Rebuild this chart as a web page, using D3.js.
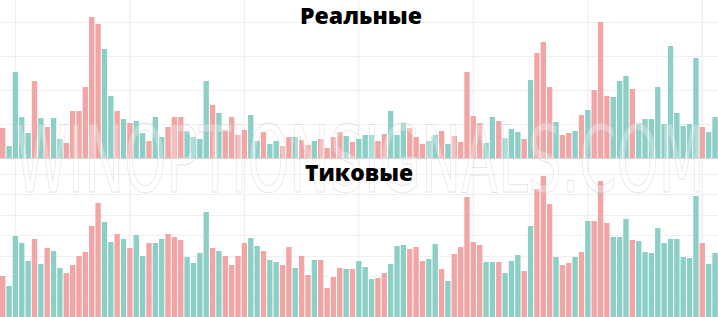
<!DOCTYPE html>
<html>
<head>
<meta charset="utf-8">
<script src="https://cdn.jsdelivr.net/npm/d3@7"></script>
<style>
  body { margin: 0; background: #fff; }
  #chartgoeshere { width: 718px; height: 317px; }
</style>
</head>
<body>
<div id="chartgoeshere"></div>
<script>
// Candle direction for every bar: "u" = up (teal), "d" = down (pink)
var directions = ("d u u u u d u d u u d d d d d d u u d u d u u d u u d d d u u u u d u d d d " +
  "d u u d u u d d u d d u d d d d u d u u u d d u u u d d d u u d u d d d d d u " +
  "u d u u u d u d d d u d d u d u d d d u u u d u u u u u u u u u u d u u u").trim().split(" ");

// Real volume (top panel)
var realVolume = [30, 12, 86, 41, 25, 77, 40, 31, 40, 19, 15, 47, 47, 71, 141, 134, 109, 62, 47, 39,
  35, 37, 25, 17, 41, 21, 31, 41, 41, 27, 21, 19, 77, 53, 45, 28, 41, 23, 28, 43,
  17, 26, 14, 17, 12, 21, 21, 18, 13, 17, 19, 10, 21, 26, 22, 16, 19, 23, 23, 17,
  24, 47, 23, 35, 30, 21, 14, 17, 23, 27, 14, 22, 16, 86, 42, 35, 15, 41, 37, 20,
  29, 26, 19, 78, 105, 116, 71, 36, 23, 25, 27, 43, 48, 68, 136, 62, 61, 77, 82, 69,
  34, 39, 39, 71, 34, 112, 45, 32, 34, 100, 31, 26, 41];

// Tick volume (bottom panel)
var tickVolume = [41, 31, 81, 74, 56, 78, 53, 69, 66, 49, 44, 52, 61, 65, 91, 114, 95, 75, 83, 78,
  69, 82, 61, 74, 74, 78, 83, 80, 77, 60, 54, 64, 105, 69, 66, 61, 52, 61, 74, 79,
  71, 66, 57, 55, 52, 70, 49, 61, 42, 57, 57, 29, 40, 49, 48, 48, 56, 50, 38, 39,
  44, 53, 71, 72, 68, 70, 56, 58, 73, 48, 36, 63, 70, 120, 75, 72, 55, 55, 55, 44,
  56, 62, 46, 91, 128, 141, 113, 60, 52, 54, 60, 65, 96, 96, 136, 94, 80, 80, 98, 77,
  76, 65, 64, 89, 74, 78, 78, 60, 59, 121, 74, 53, 64];

// Grid positions
var timeGridBars = [2, 20, 38, 56, 74, 92, 110];
var realTicks = [34, 68, 102, 136];
var tickTicks = [20.5, 41, 61.5, 82, 102.5, 123, 143.5];

// Panel titles and watermark
var titles = ["Реальные", "Тиковые"];
var watermark = "WINOPTIONSIGNALS.COM";

var width = 718,
  height = 317;

var colorUp = "#8ccfc7",
  colorDown = "#f1a5a4";

var svg = d3.select("#chartgoeshere")
  .append("svg")
  .attr("width", width)
  .attr("height", height);

// Shared x scale (bar index)
var x = d3.scaleBand()
  .domain(d3.range(realVolume.length))
  .range([-0.5, 718.2])
  .paddingInner(0.16)
  .paddingOuter(0.08);

// Top panel y scale
var yTop = d3.scaleLinear()
  .domain([0, 158])
  .range([158, 0]);

// Bottom panel y scale
var yBottom = d3.scaleLinear()
  .domain([0, 157])
  .range([317, 160]);

// Vertical grid lines
svg.selectAll(".vgrid")
  .data(timeGridBars)
  .enter()
  .append("line")
  .attr("class", "vgrid")
  .attr("x1", function (d) { return x(d) + x.bandwidth() / 2; })
  .attr("x2", function (d) { return x(d) + x.bandwidth() / 2; })
  .attr("y1", 0)
  .attr("y2", height)
  .attr("stroke", "#ececec")
  .attr("stroke-width", 1);

// Horizontal grid lines, top
svg.selectAll(".hgridTop")
  .data(realTicks)
  .enter()
  .append("line")
  .attr("x1", 0)
  .attr("x2", width)
  .attr("y1", function (d) { return Math.round(yTop(d)) + 0.5; })
  .attr("y2", function (d) { return Math.round(yTop(d)) + 0.5; })
  .attr("stroke", "#efefef");

// Horizontal grid lines, bottom
svg.selectAll(".hgridBottom")
  .data(tickTicks)
  .enter()
  .append("line")
  .attr("x1", 0)
  .attr("x2", width)
  .attr("y1", function (d) { return Math.round(yBottom(d)) + 0.5; })
  .attr("y2", function (d) { return Math.round(yBottom(d)) + 0.5; })
  .attr("stroke", "#efefef");

// Top bars
svg.selectAll(".barTop")
  .data(realVolume)
  .enter()
  .append("rect")
  .attr("x", function (d, i) { return x(i); })
  .attr("y", function (d) { return yTop(d); })
  .attr("width", x.bandwidth())
  .attr("height", function (d) { return yTop(0) - yTop(d); })
  .attr("fill", function (d, i) { return directions[i] == "u" ? colorUp : colorDown; });

// Bottom bars
svg.selectAll(".barBottom")
  .data(tickVolume)
  .enter()
  .append("rect")
  .attr("x", function (d, i) { return x(i); })
  .attr("y", function (d) { return yBottom(d); })
  .attr("width", x.bandwidth())
  .attr("height", function (d) { return yBottom(0) - yBottom(d); })
  .attr("fill", function (d, i) { return directions[i] == "u" ? colorUp : colorDown; });

// Divider between panels
svg.append("line")
  .attr("x1", 0)
  .attr("x2", width)
  .attr("y1", yTop(0) + 0.5)
  .attr("y2", yTop(0) + 0.5)
  .attr("stroke", "#d6d6d6");

// Watermark (faint outlined letters)
svg.append("text")
  .attr("x", 15)
  .attr("y", 192)
  .attr("textLength", 690)
  .attr("lengthAdjust", "spacingAndGlyphs")
  .style("font", "92px 'Liberation Sans Narrow', 'DejaVu Sans Condensed', sans-serif")
  .attr("fill", "#ffffff")
  .attr("fill-opacity", 0.3)
  .attr("stroke", "#bdbdbd")
  .attr("stroke-opacity", 0.45)
  .attr("stroke-width", 0.8)
  .text(watermark);

// Titles
svg.append("text")
  .attr("x", 300)
  .attr("y", 24)
  .attr("textLength", 122)
  .attr("lengthAdjust", "spacingAndGlyphs")
  .style("font", "800 23px 'Open Sans', 'Noto Sans', sans-serif")
  .attr("fill", "#000")
  .text(titles[0]);

svg.append("text")
  .attr("x", 305)
  .attr("y", 181)
  .attr("textLength", 108)
  .attr("lengthAdjust", "spacingAndGlyphs")
  .style("font", "800 22px 'Open Sans', 'Noto Sans', sans-serif")
  .attr("fill", "#000")
  .text(titles[1]);
</script>
</body>
</html>
